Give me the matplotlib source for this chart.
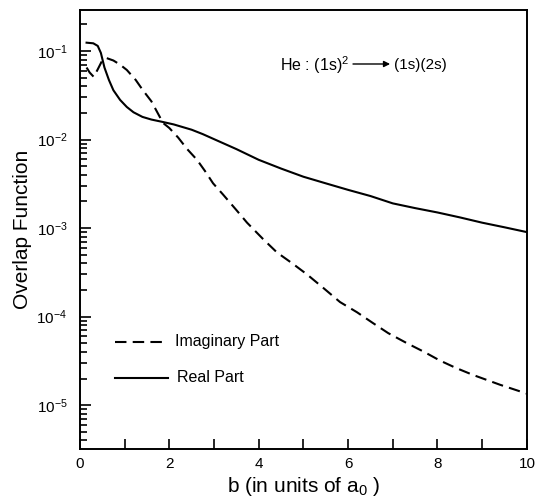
import numpy as np
import matplotlib
matplotlib.use("Agg")
import matplotlib.pyplot as plt

plt.rcParams['font.family'] = ['Liberation Sans', 'DejaVu Sans']
plt.rcParams['mathtext.fontset'] = 'custom'
plt.rcParams['mathtext.rm'] = 'Liberation Sans'
plt.rcParams['mathtext.it'] = 'Liberation Sans'
plt.rcParams['mathtext.default'] = 'regular'

# real part (solid)
b_real = [0.15, 0.3, 0.4, 0.47, 0.55, 0.65, 0.75, 0.9, 1.05, 1.2, 1.4, 1.6, 1.85, 2.1, 2.5, 2.75, 3.0, 3.5,
          4.0, 4.5, 5.0, 5.5, 6.0, 6.5, 7.0, 7.5, 8.0, 8.5, 9.0, 9.5, 10.0]
real = [0.124, 0.122, 0.114, 0.095, 0.065, 0.047, 0.036, 0.028, 0.0233, 0.0203, 0.018, 0.0168, 0.0158,
        0.0148, 0.0129, 0.0115, 0.0101, 0.0078, 0.0059, 0.0047, 0.0038, 0.0032, 0.0027, 0.0023, 0.0019,
        0.00168, 0.0015, 0.00132, 0.00115, 0.00102, 0.0009]

# imaginary part (dashed)
b_imag = [0.15, 0.22, 0.31, 0.4, 0.5, 0.6, 0.75, 0.9, 1.05, 1.25, 1.41, 1.6, 1.86, 2.0, 2.2, 2.4, 2.62,
          2.8, 2.98, 3.2, 3.5, 3.74, 4.1, 4.41, 4.75, 5.08, 5.45, 5.82, 6.2, 6.55, 6.9, 7.32, 7.7, 8.05,
          8.4, 8.79, 9.4, 10.0]
imag = [0.065, 0.057, 0.051, 0.062, 0.078, 0.083, 0.078, 0.07, 0.061, 0.047, 0.036, 0.027, 0.0154, 0.0135,
        0.0105, 0.0078, 0.0059, 0.0044, 0.0032, 0.0024, 0.0016, 0.00115, 0.00075, 0.00053, 0.0004, 0.0003,
        0.00021, 0.000146, 0.000112, 8.5e-5, 6.5e-5, 5.0e-5, 4.0e-5, 3.2e-5, 2.65e-5, 2.2e-5, 1.7e-5,
        1.35e-5]

fig = plt.figure(figsize=(5.36, 5.0), dpi=100)
ax = fig.add_axes([0.149, 0.102, 0.834, 0.878])

ax.plot(b_real, real, color='black', lw=1.5)
ax.plot(b_imag, imag, color='black', lw=1.5, dashes=(5.5, 3))

ax.set_yscale('log')
ax.set_xlim(0, 10)
ax.set_ylim(3.2e-6, 0.29)
ax.set_xticks([0, 2, 4, 6, 8, 10])
ax.set_xticks([1, 3, 5, 7, 9], minor=True)

for s in ax.spines.values():
    s.set_linewidth(1.4)
ax.tick_params(which='both', direction='in', labelsize=11, width=1.2)
ax.tick_params(axis='x', which='both', length=7, pad=6)
ax.tick_params(axis='y', which='major', length=8, pad=9)
ax.tick_params(axis='y', which='minor', length=5)

ax.set_xlabel(r'b (in units of a$_{0}$ )', fontsize=15, labelpad=3)
ax.set_ylabel('Overlap Function', fontsize=15, labelpad=3)

# annotation
ax.text(0.447, 0.875, r'He : (1s)$^{2}$', transform=ax.transAxes, fontsize=11.5, va='center')
ax.annotate('', xy=(0.694, 0.877), xytext=(0.611, 0.877), xycoords='axes fraction',
            arrowprops=dict(arrowstyle='-|>', color='black', lw=1.0, mutation_scale=9,
                            shrinkA=0, shrinkB=0))
ax.text(0.702, 0.875, '(1s)(2s)', transform=ax.transAxes, fontsize=11, va='center')

# legend drawn by hand
ax.plot([0.078, 0.197], [0.244, 0.244], transform=ax.transAxes, color='black', lw=1.5, dashes=(5.5, 3))
ax.text(0.213, 0.244, 'Imaginary Part', transform=ax.transAxes, fontsize=11.5, va='center')
ax.plot([0.078, 0.197], [0.162, 0.162], transform=ax.transAxes, color='black', lw=1.5)
ax.text(0.217, 0.162, 'Real Part', transform=ax.transAxes, fontsize=11.5, va='center')

fig.savefig('out.png', dpi=100)
